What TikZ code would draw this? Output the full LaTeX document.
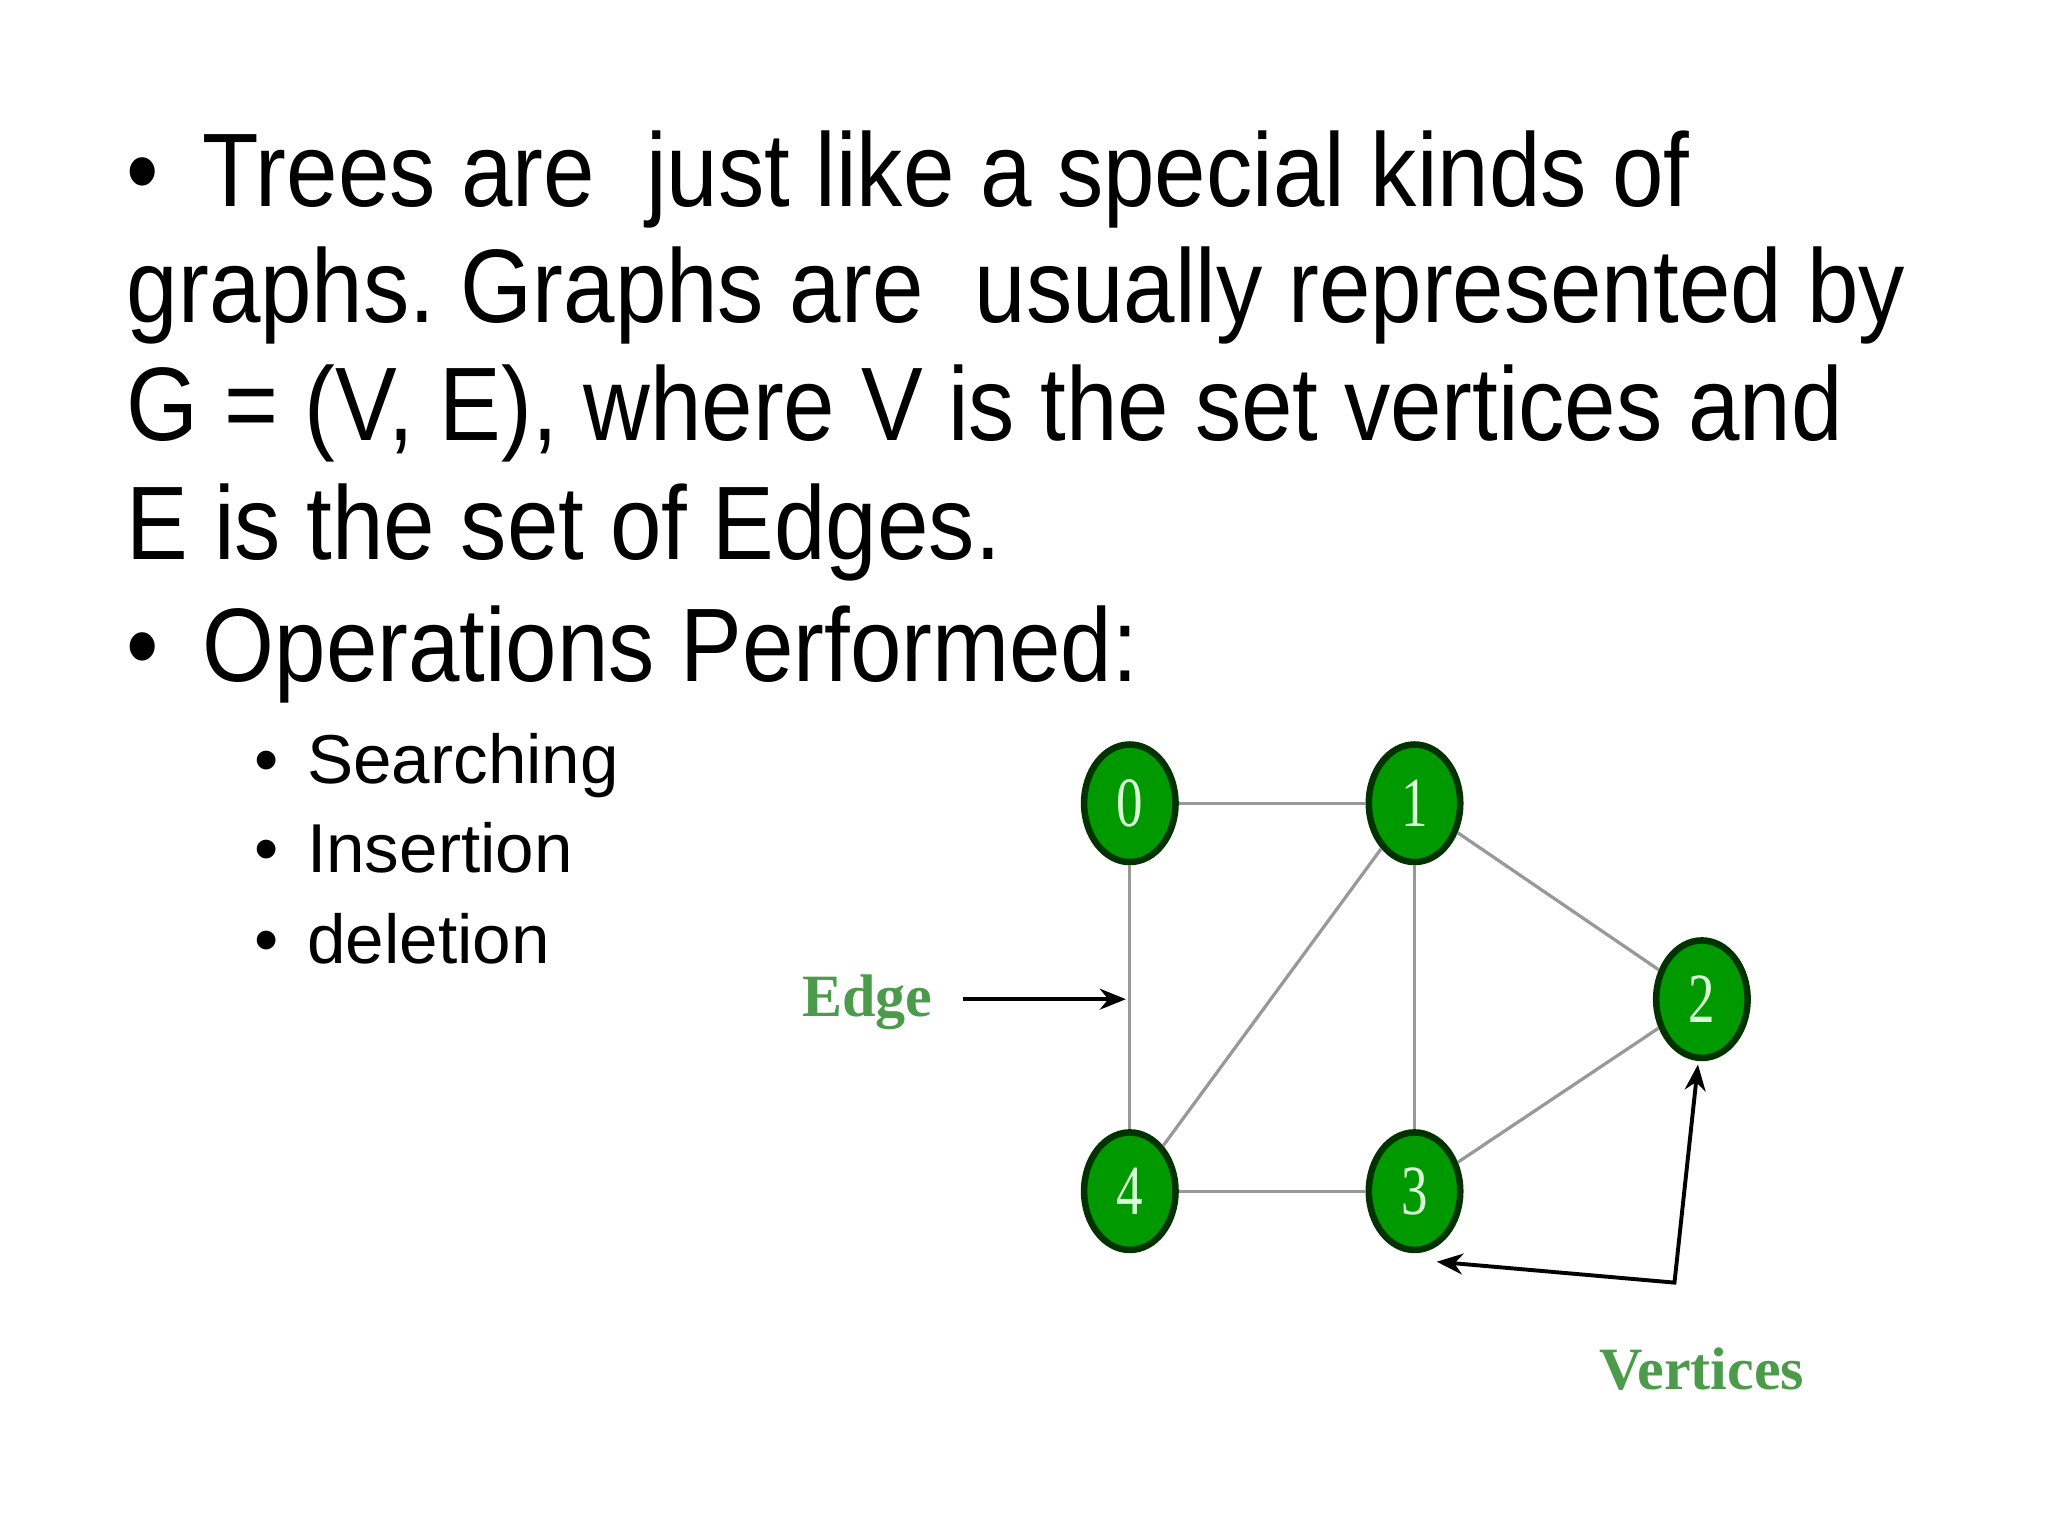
\documentclass[tikz,border=0pt]{standalone}
\usepackage{fontspec}
\setmainfont{Liberation Sans}
\newfontfamily\narrowsans[FakeStretch=0.885]{Liberation Sans}
\newfontfamily\serifb{Liberation Serif}
\newfontfamily\serifn[FakeStretch=0.75]{Liberation Serif}
\usetikzlibrary{arrows.meta,shapes.geometric}
\frenchspacing
\begin{document}
\begin{tikzpicture}[x=1pt,y=-1pt,
  big/.style={anchor=base west,inner sep=0pt,font=\narrowsans\fontsize{80}{92}\selectfont},
  small/.style={anchor=base west,inner sep=0pt,font=\fontsize{53}{60}\selectfont},
  vert/.style={ellipse,draw=black!80!green,line width=5pt,fill=green!60!black,minimum width=70,minimum height=90,inner sep=0pt,text=white!85!green,font=\serifn\fontsize{54}{56}\selectfont},
  gedge/.style={draw=gray!80,line width=2.5pt},
  lbl/.style={text=green!35!gray!90!black,font=\serifb\bfseries\fontsize{46}{50}\selectfont,inner sep=0pt}]
\useasboundingbox (0,0) rectangle (1568,1174);
\node[big] (b1) at (97,158) {•};
\node[big] (t1) at (155,158) {Trees are\ \ just like a special kinds of};
\node[big] (t2) at (97,247) {graphs. Graphs are\ \ usually represented by};
\node[big] (t3) at (97,337) {G = (V, E), where V is the set vertices and};
\node[big] (t4) at (97,428) {E is the set of Edges.};
\node[big] (b5) at (97,522) {•};
\node[big] (t5) at (155,522) {Operations Performed:};
\node[small] (s1b) at (195,600) {•};
\node[small] (s1) at (235,600) {Searching};
\node[small] (s2b) at (195,668) {•};
\node[small] (s2) at (235,668) {Insertion};
\node[small] (s3b) at (195,738) {•};
\node[small] (s3) at (235,738) {deletion};
\node[vert] (n0) at (865,615) {0};
\node[vert] (n1) at (1083,615) {1};
\node[vert] (n2) at (1303,765) {2};
\node[vert] (n4) at (865,912) {4};
\node[vert] (n3) at (1083,912) {3};
\draw[gedge] (n0)--(n1);
\draw[gedge] (n0)--(n4);
\draw[gedge] (n1)--(n3);
\draw[gedge] (n1)--(n4);
\draw[gedge] (n1)--(n2);
\draw[gedge] (n4)--(n3);
\draw[gedge] (n3)--(n2);
\node[lbl] (edge) at (664,767) {Edge};
\coordinate (ea) at (737,765);
\coordinate (eb) at (862,765);
\draw[line width=3pt,-{Stealth[length=20pt,width=16pt]}] (ea)--(eb);
\node[lbl] (vt) at (1303,1048) {Vertices};
\coordinate (corner) at (1282,982);
\coordinate (t3a) at (1100,966);
\coordinate (t2a) at (1300,815);
\draw[line width=3pt,{Stealth[length=20pt,width=16pt]}-{Stealth[length=20pt,width=16pt]}] (t3a)--(corner)--(t2a);
\end{tikzpicture}
\end{document}
